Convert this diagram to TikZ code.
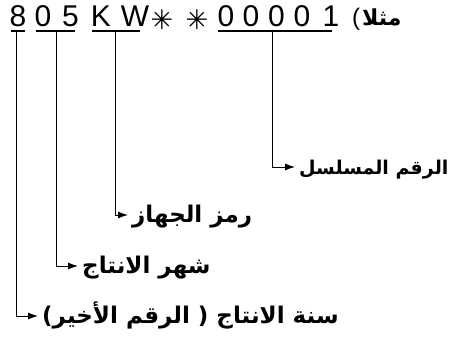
\documentclass[tikz,border=0pt]{standalone}
\usepackage{fontspec}
\setmainfont{Liberation Sans}
\newfontfamily\arabicfont[Script=Arabic]{DejaVu Sans}
\newfontfamily\symfont{DejaVu Sans}
\TeXXeTstate=1
\usetikzlibrary{arrows.meta}

\begin{document}
\begin{tikzpicture}[
    x=1pt, y=-1pt,
    codechar/.style={font=\fontsize{30}{30}\selectfont, inner sep=0pt, anchor=base},
    codestar/.style={font=\symfont\fontsize{27}{27}\selectfont, inner sep=0pt},
    arlabel/.style={font=\arabicfont\bfseries\fontsize{23}{23}\selectfont, anchor=west,
        inner sep=4pt, text height=16pt, text depth=2pt},
    underbar/.style={line width=1.2pt},
    link/.style={line width=0.9pt, -{Latex[length=10pt,width=7pt]}}
]
    \useasboundingbox (0,0) rectangle (457,339);

    % Code characters
    \foreach \ch/\cx [count=\i] in {8/18, 0/43, 5/70.5, K/101, W/135,
            0/226, 0/251, 0/276.5, 0/302, 1/331}
        \node[codechar] (c\i) at (\cx, 27) {\ch};
    \node[codestar] (s1) at (162, 20) {✳};
    \node[codestar] (s2) at (197, 20) {✳};
    \node[font=\fontsize{24}{24}\selectfont, inner sep=0pt] (paren) at (356, 19) {(};
    \node[font=\arabicfont\bfseries\fontsize{22}{22}\selectfont, inner sep=0pt, anchor=base west]
        (example) at (362, 26) {\beginR مثلا\endR};

    % Underlines
    \draw[underbar] (11, 31) -- (25, 31);
    \draw[underbar] (36, 31) -- (75, 31);
    \draw[underbar] (92, 31) -- (140, 31);
    \draw[underbar] (218, 31) -- (332, 31);

    \coordinate (yearbar) at (16, 31);
    \coordinate (monthbar) at (56, 31);
    \coordinate (devbar) at (115, 31);
    \coordinate (serialbar) at (272, 31);

    % Labels
    \node[arlabel, font=\arabicfont\bfseries\fontsize{19}{19}\selectfont] (serial)
        at (295, 167) {\beginR الرقم المسلسل\endR};
    \node[arlabel] (device) at (128, 215) {\beginR رمز الجهاز\endR};
    \node[arlabel] (month) at (78, 266) {\beginR شهر الانتاج\endR};
    \node[arlabel] (year) at (38, 316) {\beginR سنة الانتاج ( الرقم الأخير)\endR};

    % Connectors
    \draw[link] (serialbar) |- (serial.west);
    \draw[link] (devbar) |- (device.west);
    \draw[link] (monthbar) |- (month.west);
    \draw[link] (yearbar) |- (year.west);
\end{tikzpicture}
\end{document}
